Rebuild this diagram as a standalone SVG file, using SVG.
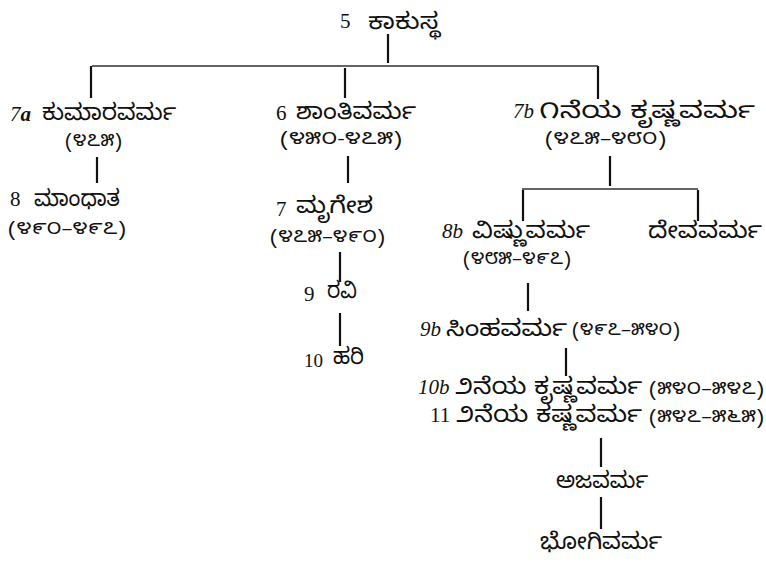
<svg xmlns="http://www.w3.org/2000/svg" width="766" height="563" viewBox="0 0 766 563">
<style>
.num{font-family:"Liberation Serif","DejaVu Serif",serif;font-size:21px;fill:#111}
.sm{font-size:19px}
.it{font-style:italic}
.kn{font-family:"Noto Sans Kannada","Noto Sans","DejaVu Sans",sans-serif;font-size:23px;fill:#111}
.dt{font-family:"Noto Sans Kannada","Noto Sans","DejaVu Sans",sans-serif;font-size:17px;fill:#111}
.ln{stroke:#111;stroke-width:2.2;fill:none}
.hl{stroke:#333;stroke-width:1.4;fill:none}
</style>
<rect width="766" height="563" fill="#fff"/>
<g id="connectors">
<path class="ln" d="M388 34V63M91 66V98M345 68V98M598 66V99M97 157V183M348 156V183M340 252V282M340 313V346M610 156V186M523 190V221M698 190V221M528 283V311M566 348V376M601 438V467M601 497V529"/>
<path class="hl" d="M92 66H598M522 189H698"/>
</g>
<g id="n5"><text class="num" x="340" y="28">5</text><text class="kn" x="368" y="29" textLength="72" lengthAdjust="spacingAndGlyphs">ಕಾಕುಸ್ಥ</text></g>
<g id="n7a"><text class="num it" x="10" y="121">7<tspan font-weight="bold">a</tspan></text><text class="kn" x="42" y="120" textLength="134" lengthAdjust="spacingAndGlyphs">ಕುಮಾರವರ್ಮ</text><text class="dt" x="65" y="146" textLength="57" lengthAdjust="spacingAndGlyphs">(೪೭೫)</text></g>
<g id="n8"><text class="num" x="10" y="206">8</text><text class="kn" x="34" y="206" textLength="86" lengthAdjust="spacingAndGlyphs">ಮಾಂಧಾತ</text><text class="dt" x="8" y="234" textLength="118" lengthAdjust="spacingAndGlyphs">(೪೯೦–೪೯೭)</text></g>
<g id="n6"><text class="num" x="276" y="120">6</text><text class="kn" x="296" y="119" textLength="120" lengthAdjust="spacingAndGlyphs">ಶಾಂತಿವರ್ಮ</text><text class="dt" x="280" y="144" textLength="122" lengthAdjust="spacingAndGlyphs">(೪೫೦-೪೭೫)</text></g>
<g id="n7"><text class="num" x="276" y="216">7</text><text class="kn" x="296" y="213" textLength="77" lengthAdjust="spacingAndGlyphs">ಮೃಗೇಶ</text><text class="dt" x="270" y="242" textLength="115" lengthAdjust="spacingAndGlyphs">(೪೭೫–೪೯೦)</text></g>
<g id="n9"><text class="num" x="304" y="301">9</text><text class="kn" x="327" y="298" textLength="30" lengthAdjust="spacingAndGlyphs">ರವಿ</text></g>
<g id="n10"><text class="num sm" x="304" y="367">10</text><text class="kn" x="333" y="364" textLength="31" lengthAdjust="spacingAndGlyphs">ಹರಿ</text></g>
<g id="n7b"><text class="num it" x="513" y="118">7b</text><text class="kn" x="539" y="118" textLength="216" lengthAdjust="spacingAndGlyphs">೧ನೆಯ ಕೃಷ್ಣವರ್ಮ</text><text class="dt" x="545" y="144" textLength="121" lengthAdjust="spacingAndGlyphs">(೪೭೫–೪೮೦)</text></g>
<g id="n8b"><text class="num it" x="442" y="238">8b</text><text class="kn" x="472" y="238" textLength="118" lengthAdjust="spacingAndGlyphs">ವಿಷ್ಣುವರ್ಮ</text><text class="dt" x="463" y="264" textLength="108" lengthAdjust="spacingAndGlyphs">(೪೮೫–೪೯೭)</text></g>
<g id="ndeva"><text class="kn" x="648" y="238" textLength="114" lengthAdjust="spacingAndGlyphs">ದೇವವರ್ಮ</text></g>
<g id="n9b"><text class="num it" x="420" y="336">9b</text><text class="kn" x="446" y="336" textLength="121" lengthAdjust="spacingAndGlyphs">ಸಿಂಹವರ್ಮ</text><text class="dt" x="572" y="335" textLength="108" lengthAdjust="spacingAndGlyphs">(೪೯೭–೫೪೦)</text></g>
<g id="n10b"><text class="num it" x="418" y="394">10b</text><text class="kn" x="455" y="394" textLength="187" lengthAdjust="spacingAndGlyphs">೨ನೆಯ ಕೃಷ್ಣವರ್ಮ</text><text class="dt" x="649" y="394" textLength="115" lengthAdjust="spacingAndGlyphs">(೫೪೦–೫೪೭)</text></g>
<g id="n11"><text class="num" x="430" y="422">11</text><text class="kn" x="456" y="422" textLength="186" lengthAdjust="spacingAndGlyphs">೨ನೆಯ ಕಷ್ಣವರ್ಮ</text><text class="dt" x="649" y="422" textLength="115" lengthAdjust="spacingAndGlyphs">(೫೪೭–೫೬೫)</text></g>
<g id="naja"><text class="kn" x="556" y="488" textLength="92" lengthAdjust="spacingAndGlyphs">ಅಜವರ್ಮ</text></g>
<g id="nbhogi"><text class="kn" x="540" y="549" textLength="122" lengthAdjust="spacingAndGlyphs">ಭೋಗಿವರ್ಮ</text></g>
</svg>
